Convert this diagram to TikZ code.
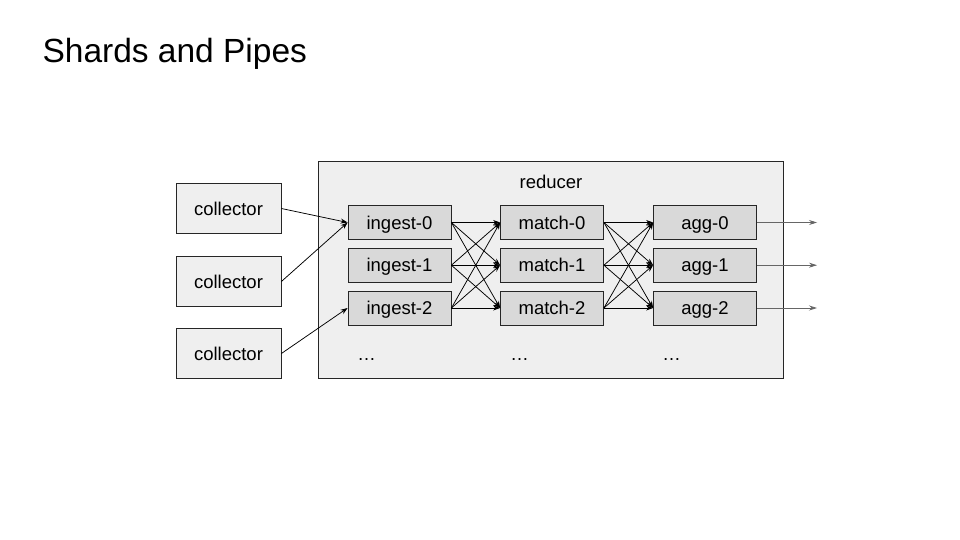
\documentclass[tikz,border=0pt]{standalone}
\usepackage{fontspec}
\setmainfont{Liberation Sans}
\usetikzlibrary{arrows.meta}

\definecolor{boxgray}{HTML}{EFEFEF}
\definecolor{stagegray}{HTML}{D9D9D9}
\definecolor{outgray}{HTML}{666666}

\begin{document}
\begin{tikzpicture}[x=1pt,y=-1pt,
		  every node/.style={font=\fontsize{18.5}{22}\selectfont},
		  src/.style={draw=black!85, fill=boxgray, line width=0.8pt, minimum width=105pt, minimum height=50pt, inner sep=0pt, text height=13.2pt, text depth=0pt},
		  stage/.style={draw=black!85, fill=stagegray, line width=0.8pt, minimum width=103pt, minimum height=34pt, inner sep=0pt, text height=13.2pt, text depth=0pt},
		  link/.style={line width=0.75pt, -{Stealth[length=7pt,width=5pt]}},
		  outlink/.style={draw=outgray, line width=0.8pt, -{Stealth[length=8pt,width=5pt]}}]
		  \useasboundingbox (0,0) rectangle (960,540);
		  \node[anchor=base west, font=\fontsize{33.5}{38}\selectfont] (title) at (39,62.3) {Shards and Pipes};

		  \draw[draw=black!85, fill=boxgray, line width=0.8pt] (318,161) rectangle (783,378);
		  \node[anchor=base] (reducer) at (551,188.3) {reducer};

		  \node[src] (col0) at (228.5,208.5) {collector};
		  \node[src] (col1) at (228.5,281.5) {collector};
		  \node[src] (col2) at (228.5,353.5) {collector};

		  \node[stage] (in0) at (399.5,222.5) {ingest-0};
		  \node[stage] (in1) at (399.5,265.2) {ingest-1};
		  \node[stage] (in2) at (399.5,308) {ingest-2};
		  \node[stage] (ma0) at (552,222.5) {match-0};
		  \node[stage] (ma1) at (552,265.2) {match-1};
		  \node[stage] (ma2) at (552,308) {match-2};
		  \node[stage] (ag0) at (705,222.5) {agg-0};
		  \node[stage] (ag1) at (705,265.2) {agg-1};
		  \node[stage] (ag2) at (705,308) {agg-2};

		  \node[anchor=base] (dots0) at (366.5,360) {\dots};
		  \node[anchor=base] (dots1) at (519.5,360) {\dots};
		  \node[anchor=base] (dots2) at (671.5,360) {\dots};

		  \coordinate (end0) at (817,222.5);
		  \coordinate (end1) at (817,265.2);
		  \coordinate (end2) at (817,308);

		  \draw[link] (col0.east) -- (in0.west);
		  \draw[link] (col1.east) -- (in0.west);
		  \draw[link] (col2.east) -- (in2.west);

		  \draw[link] (in0.east) -- (ma0.west);
		  \draw[link] (in0.east) -- (ma1.west);
		  \draw[link] (in0.east) -- (ma2.west);
		  \draw[link] (in1.east) -- (ma0.west);
		  \draw[link] (in1.east) -- (ma1.west);
		  \draw[link] (in1.east) -- (ma2.west);
		  \draw[link] (in2.east) -- (ma0.west);
		  \draw[link] (in2.east) -- (ma1.west);
		  \draw[link] (in2.east) -- (ma2.west);

		  \draw[link] (ma0.east) -- (ag0.west);
		  \draw[link] (ma0.east) -- (ag1.west);
		  \draw[link] (ma0.east) -- (ag2.west);
		  \draw[link] (ma1.east) -- (ag0.west);
		  \draw[link] (ma1.east) -- (ag1.west);
		  \draw[link] (ma1.east) -- (ag2.west);
		  \draw[link] (ma2.east) -- (ag0.west);
		  \draw[link] (ma2.east) -- (ag1.west);
		  \draw[link] (ma2.east) -- (ag2.west);

		  \draw[outlink] (ag0.east) -- (end0);
		  \draw[outlink] (ag1.east) -- (end1);
		  \draw[outlink] (ag2.east) -- (end2);
		\end{tikzpicture}
\end{document}
